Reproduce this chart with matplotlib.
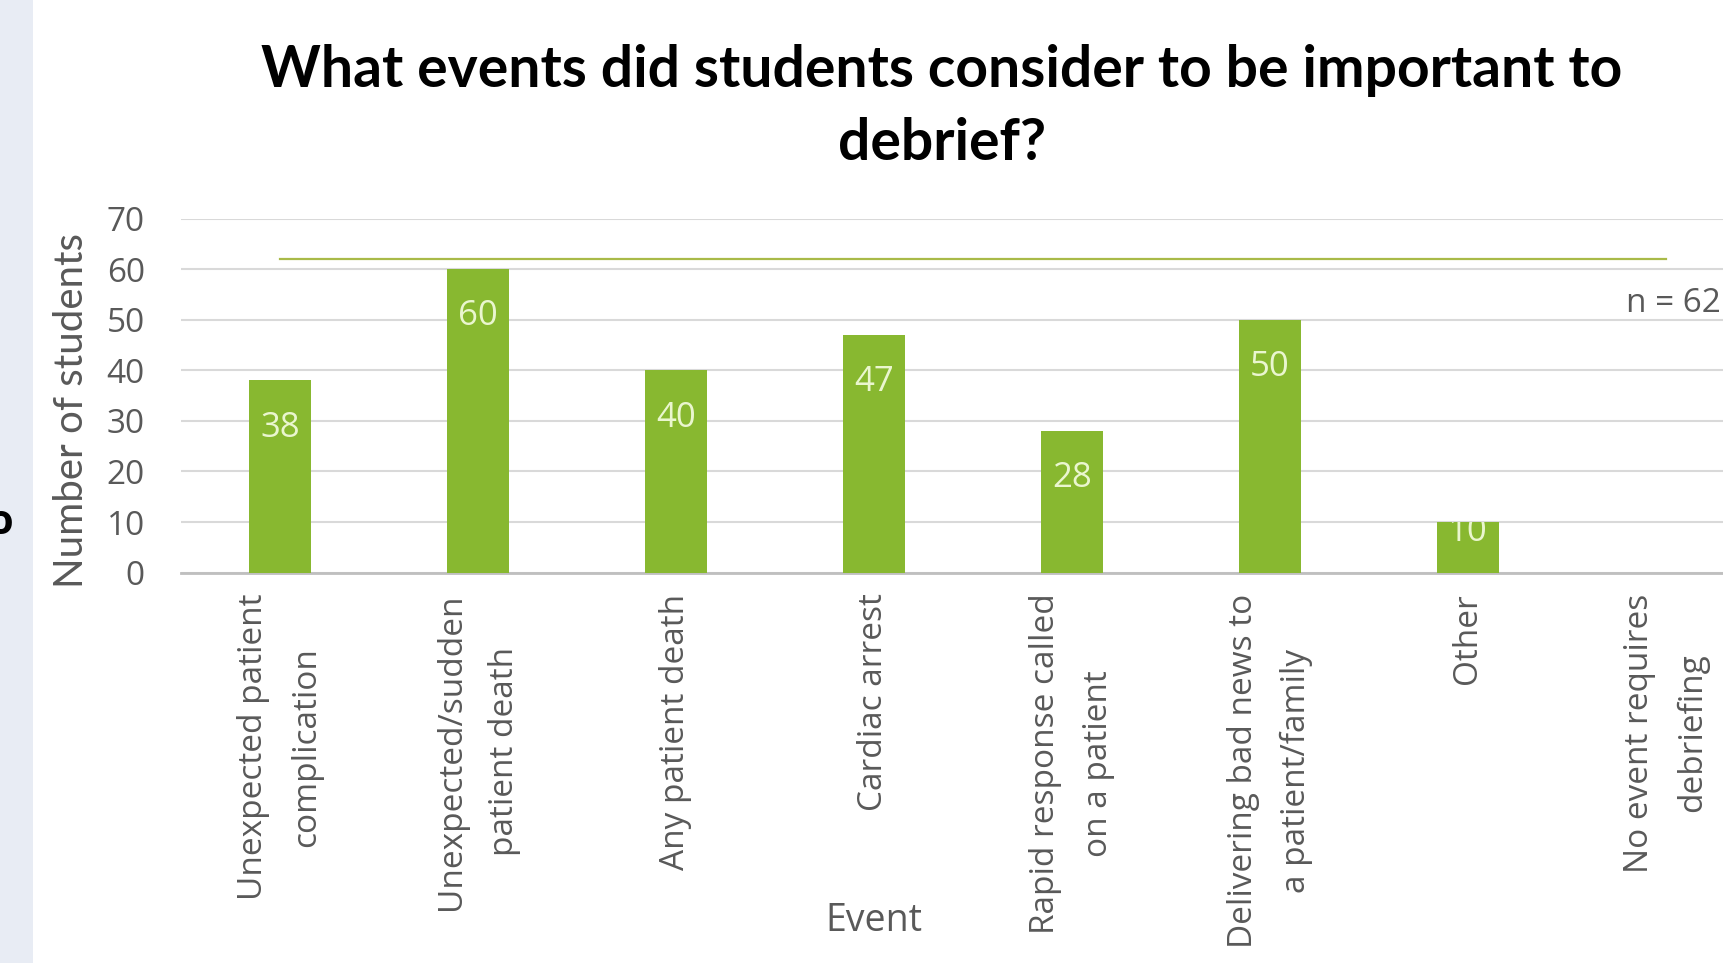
import numpy as np
import matplotlib.pyplot as plt

categories = [
    "Unexpected patient\ncomplication",
    "Unexpected/sudden\npatient death",
    "Any patient death",
    "Cardiac arrest",
    "Rapid response called\non a patient",
    "Delivering bad news to\na patient/family",
    "Other",
    "No event requires\ndebriefing",
]
counts = [38, 60, 40, 47, 28, 50, 10, 0]
n_total = [62] * len(categories)
y_ticks = [0, 10, 20, 30, 40, 50, 60, 70]

bar_color = '#88B830'
line_color = '#A9BA48'
grey = '#595959'

W, H = 1723, 963
fig = plt.figure(figsize=(W / 100, H / 100), dpi=100)
fig.patch.set_facecolor('white')

# slide strip on the left
fig.patches.append(plt.Rectangle((0, 0), 33 / W, 1, transform=fig.transFigure,
                                 facecolor='#E8ECF4', edgecolor='none', zorder=0))
fig.text(0.0, 1 - 524 / H, 'o', ha='center', va='center', fontsize=30,
         fontweight='bold', color='black', family='Open Sans')

# axes runs off the right edge like the cropped original
ax = fig.add_axes([181 / W, 1 - 572.6 / H, 1584 / W, 353.9 / H])
x = np.arange(len(categories))
bars = ax.bar(x, counts, width=0.316, color=bar_color, zorder=3)
ax.plot(x, n_total, color=line_color, lw=1.6, zorder=4)
ax.annotate('n = 62', (x[-1], n_total[-1]), xytext=(5, -32), textcoords='offset points',
            ha='center', va='center', fontsize=24, color=grey, family='Open Sans',
            annotation_clip=False)

for b, v in zip(bars, counts):
    off = min(34, max(v * 3.64 - 29, 0))
    t = ax.annotate(str(v), (b.get_x() + b.get_width() / 2, v), xytext=(0, -off),
                    textcoords='offset points', ha='center', va='center',
                    fontsize=25, color='#EAF6CF', family='Open Sans', zorder=5)
    t.set_clip_path(b)

ax.set_xlim(-0.5, len(categories) - 0.5)
ax.set_ylim(0, 70)
ax.set_yticks(y_ticks)
ax.set_yticklabels([str(v) for v in y_ticks], fontsize=24, color=grey, family='Open Sans')
ax.tick_params(axis='y', length=0, pad=26)
ax.set_xticks(x)
ax.set_xticklabels(categories, rotation=90, fontsize=24, color=grey, family='Open Sans',
                   ha='center', va='top', multialignment='center', linespacing=1.8)
ax.tick_params(axis='x', length=0, pad=15)
ax.grid(axis='y', color='#D9D9D9', lw=1.5, zorder=0)
for s in ['top', 'left', 'right']:
    ax.spines[s].set_visible(False)
ax.spines['bottom'].set_color('#BFBFBF')
ax.spines['bottom'].set_linewidth(2)

fig.text(72 / W, 1 - 410 / H, 'Number of students', rotation=90, ha='center', va='center',
         fontsize=29, color=grey, family='Lato')
fig.text(874 / W, 1 - 921 / H, 'Event', ha='center', va='center', fontsize=27,
         color=grey, family='Open Sans')

fig.text(942 / W, 1 - 107 / H, 'What events did students consider to be important to\ndebrief?',
         ha='center', va='center', fontsize=41, fontweight='bold', family='Lato',
         linespacing=1.48, color='black')

fig.savefig('out.png', dpi=100, facecolor='white')
